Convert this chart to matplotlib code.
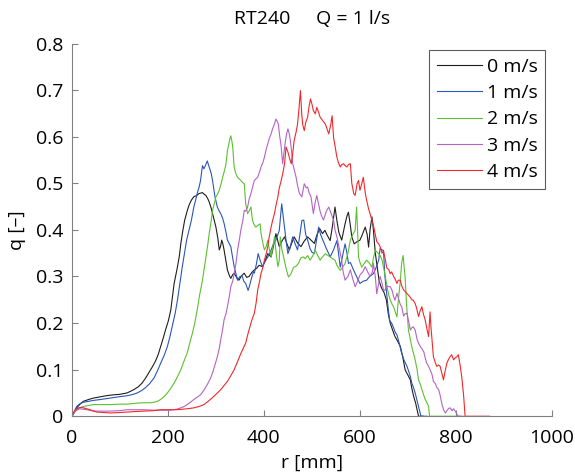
import matplotlib

matplotlib.use("Agg")
import matplotlib.pyplot as plt

plt.rcParams["font.family"] = ["Open Sans", "DejaVu Sans"]

labels = ["0 m/s", "1 m/s", "2 m/s", "3 m/s", "4 m/s"]
colors = ["#1e1e1e", "#2a56b8", "#5cc030", "#b463c6", "#f0282a"]

# 0 m/s
r0 = [0, 5, 10, 18, 24, 35, 45, 55, 66, 78, 87, 100, 115, 129, 138, 146, 153, 160, 167, 174,
      180, 185, 190, 195, 201, 206, 210, 213, 217, 220, 224, 227, 231, 235, 240, 244, 249, 254,
      260, 265, 272, 276, 279, 283, 286, 290, 293, 297, 300, 304, 307, 310, 312, 314, 317, 321,
      324, 328, 331, 335, 338, 343, 348, 353, 359, 364, 369, 375, 380, 385, 390, 397, 403, 408,
      415, 420, 425, 432, 437, 443, 448, 453, 458, 463, 470, 477, 484, 491, 498, 505, 510, 516,
      522, 527, 532, 538, 543, 548, 552, 556, 562, 566, 569, 573, 576, 580, 583, 588, 593, 600,
      605, 611, 615, 618, 621, 625, 628, 632, 635, 640, 645, 650, 655, 659, 663, 668, 673, 678,
      684, 689, 694, 700, 705, 708, 712, 716, 719, 722, 732]
q0 = [0, 0.008, 0.018, 0.027, 0.032, 0.036, 0.039, 0.041, 0.043, 0.045, 0.046, 0.047, 0.050,
      0.057, 0.063, 0.071, 0.081, 0.093, 0.105, 0.118, 0.133, 0.150, 0.167, 0.185, 0.205, 0.228,
      0.260, 0.285, 0.305, 0.321, 0.345, 0.371, 0.398, 0.421, 0.440, 0.453, 0.464, 0.471, 0.474,
      0.478, 0.480, 0.476, 0.474, 0.467, 0.460, 0.447, 0.435, 0.418, 0.406, 0.382, 0.357, 0.366,
      0.378, 0.372, 0.357, 0.333, 0.314, 0.302, 0.296, 0.304, 0.307, 0.298, 0.292, 0.301, 0.307,
      0.298, 0.300, 0.309, 0.314, 0.318, 0.324, 0.321, 0.335, 0.349, 0.342, 0.366, 0.392, 0.364,
      0.375, 0.385, 0.370, 0.357, 0.372, 0.385, 0.372, 0.364, 0.376, 0.385, 0.378, 0.371, 0.388,
      0.403, 0.392, 0.399, 0.388, 0.377, 0.410, 0.449, 0.420, 0.395, 0.378, 0.398, 0.413, 0.430,
      0.438, 0.410, 0.385, 0.370, 0.374, 0.378, 0.390, 0.406, 0.390, 0.363, 0.400, 0.428, 0.400,
      0.350, 0.328, 0.290, 0.275, 0.266, 0.250, 0.220, 0.200, 0.185, 0.171, 0.162, 0.150, 0.128,
      0.100, 0.088, 0.078, 0.060, 0.042, 0.028, 0.014, 0, 0]

# 1 m/s
r1 = [0, 5, 10, 17, 24, 35, 45, 60, 80, 100, 115, 128, 136, 145, 153, 162, 171, 178, 185, 192,
      199, 204, 209, 215, 220, 225, 230, 235, 239, 244, 249, 254, 258, 261, 265, 268, 272, 275,
      279, 282, 286, 290, 293, 298, 303, 307, 310, 314, 317, 321, 324, 328, 331, 335, 338, 342,
      345, 350, 355, 358, 362, 367, 370, 373, 378, 380, 384, 388, 392, 397, 404, 410, 415, 420,
      425, 432, 437, 440, 443, 447, 450, 455, 460, 465, 470, 475, 479, 483, 487, 491, 496, 500,
      505, 510, 514, 518, 524, 530, 538, 545, 552, 556, 559, 564, 569, 573, 576, 580, 587, 593,
      600, 607, 614, 620, 628, 634, 639, 642, 646, 649, 652, 655, 659, 662, 666, 670, 673, 677,
      681, 687, 692, 698, 702, 705, 708, 712, 715, 719, 722, 727, 740]
q1 = [0, 0.010, 0.021, 0.027, 0.030, 0.032, 0.034, 0.036, 0.039, 0.042, 0.044, 0.047, 0.050,
      0.055, 0.061, 0.070, 0.082, 0.097, 0.114, 0.130, 0.150, 0.170, 0.193, 0.220, 0.250, 0.285,
      0.321, 0.352, 0.378, 0.400, 0.421, 0.449, 0.465, 0.478, 0.492, 0.506, 0.538, 0.531, 0.540,
      0.548, 0.535, 0.522, 0.506, 0.471, 0.449, 0.440, 0.435, 0.425, 0.414, 0.395, 0.378, 0.370,
      0.364, 0.340, 0.321, 0.305, 0.292, 0.300, 0.300, 0.290, 0.285, 0.270, 0.280, 0.292, 0.310,
      0.307, 0.325, 0.349, 0.335, 0.321, 0.335, 0.345, 0.357, 0.370, 0.378, 0.399, 0.456, 0.430,
      0.406, 0.370, 0.349, 0.365, 0.385, 0.370, 0.357, 0.390, 0.420, 0.421, 0.390, 0.378, 0.360,
      0.352, 0.349, 0.380, 0.406, 0.390, 0.375, 0.360, 0.342, 0.357, 0.377, 0.345, 0.320, 0.345,
      0.370, 0.350, 0.328, 0.330, 0.313, 0.300, 0.285, 0.290, 0.292, 0.300, 0.306, 0.320, 0.335,
      0.360, 0.357, 0.356, 0.300, 0.270, 0.230, 0.205, 0.200, 0.190, 0.181, 0.175, 0.160, 0.135,
      0.120, 0.107, 0.095, 0.085, 0.071, 0.060, 0.050, 0.033, 0.020, 0, 0]

# 2 m/s
r2 = [0, 5, 10, 17, 24, 35, 45, 60, 80, 100, 115, 135, 150, 163, 171, 178, 185, 192, 199, 206,
      213, 220, 227, 233, 240, 245, 251, 256, 261, 266, 272, 276, 279, 283, 286, 290, 293, 297,
      300, 304, 307, 311, 314, 318, 321, 324, 327, 329, 331, 333, 335, 338, 341, 345, 348, 352,
      355, 359, 362, 366, 369, 373, 376, 380, 383, 388, 392, 394, 398, 401, 405, 408, 411, 415,
      418, 422, 425, 429, 432, 434, 437, 441, 446, 451, 456, 462, 467, 472, 477, 482, 486, 491,
      496, 501, 507, 512, 517, 522, 528, 533, 538, 543, 548, 553, 559, 564, 569, 575, 580, 585,
      590, 593, 595, 597, 600, 604, 609, 614, 620, 625, 628, 632, 636, 639, 642, 646, 649, 653,
      656, 660, 663, 667, 670, 674, 677, 680, 684, 687, 690, 692, 694, 697, 701, 705, 708, 712,
      715, 719, 722, 726, 729, 733, 736, 740, 743, 745, 810]
q2 = [0, 0.008, 0.014, 0.018, 0.021, 0.023, 0.025, 0.025, 0.025, 0.026, 0.026, 0.028, 0.029,
      0.029, 0.030, 0.032, 0.036, 0.042, 0.050, 0.060, 0.071, 0.085, 0.100, 0.117, 0.135, 0.155,
      0.178, 0.200, 0.228, 0.260, 0.292, 0.320, 0.342, 0.368, 0.392, 0.418, 0.442, 0.458, 0.471,
      0.478, 0.485, 0.500, 0.513, 0.528, 0.542, 0.570, 0.585, 0.595, 0.602, 0.592, 0.578, 0.535,
      0.522, 0.513, 0.510, 0.506, 0.502, 0.499, 0.456, 0.435, 0.440, 0.449, 0.421, 0.410, 0.406,
      0.410, 0.413, 0.392, 0.370, 0.357, 0.365, 0.378, 0.360, 0.342, 0.360, 0.385, 0.355, 0.321,
      0.335, 0.385, 0.360, 0.342, 0.318, 0.299, 0.305, 0.320, 0.322, 0.328, 0.340, 0.342, 0.338,
      0.345, 0.335, 0.343, 0.356, 0.345, 0.335, 0.342, 0.349, 0.345, 0.342, 0.338, 0.335, 0.322,
      0.313, 0.320, 0.328, 0.350, 0.378, 0.390, 0.399, 0.449, 0.400, 0.342, 0.330, 0.320, 0.328,
      0.335, 0.328, 0.320, 0.340, 0.356, 0.352, 0.349, 0.345, 0.335, 0.320, 0.300, 0.280, 0.260,
      0.250, 0.240, 0.235, 0.222, 0.213, 0.250, 0.290, 0.330, 0.345, 0.320, 0.300, 0.240, 0.185,
      0.165, 0.149, 0.133, 0.121, 0.100, 0.078, 0.068, 0.057, 0.045, 0.036, 0.028, 0.021, 0, 0]

# 3 m/s
r3 = [0, 4, 7, 12, 17, 24, 31, 40, 52, 65, 80, 100, 115, 130, 150, 170, 185, 206, 218, 227,
      234, 240, 247, 254, 261, 268, 275, 282, 288, 293, 298, 303, 307, 310, 314, 317, 321, 324,
      328, 331, 335, 338, 342, 345, 349, 352, 356, 359, 362, 366, 369, 373, 376, 380, 384, 387,
      391, 394, 398, 401, 404, 408, 411, 415, 418, 422, 425, 428, 430, 433, 436, 439, 441, 444,
      447, 450, 453, 455, 458, 460, 464, 467, 470, 474, 479, 484, 488, 491, 494, 498, 503, 507,
      510, 514, 517, 520, 524, 530, 535, 540, 545, 548, 552, 557, 562, 565, 569, 575, 580, 585,
      590, 595, 600, 606, 611, 616, 621, 626, 628, 632, 635, 639, 642, 646, 649, 652, 656, 660,
      663, 667, 670, 673, 677, 681, 684, 687, 691, 694, 698, 701, 705, 708, 711, 715, 719, 722,
      726, 729, 733, 736, 739, 743, 746, 750, 753, 757, 760, 764, 767, 771, 775, 778, 781, 785,
      788, 792, 795, 799, 802, 805, 815]
q3 = [0, 0.007, 0.011, 0.014, 0.016, 0.015, 0.014, 0.012, 0.011, 0.011, 0.011, 0.012, 0.014,
      0.014, 0.014, 0.013, 0.013, 0.013, 0.015, 0.018, 0.021, 0.025, 0.030, 0.036, 0.041, 0.046,
      0.056, 0.068, 0.080, 0.093, 0.110, 0.128, 0.146, 0.164, 0.186, 0.207, 0.220, 0.235, 0.258,
      0.278, 0.290, 0.307, 0.330, 0.356, 0.380, 0.400, 0.420, 0.442, 0.440, 0.449, 0.465, 0.478,
      0.490, 0.506, 0.510, 0.513, 0.525, 0.535, 0.545, 0.556, 0.570, 0.585, 0.596, 0.606, 0.617,
      0.627, 0.638, 0.632, 0.627, 0.600, 0.578, 0.542, 0.560, 0.585, 0.605, 0.617, 0.605, 0.592,
      0.565, 0.542, 0.525, 0.513, 0.495, 0.478, 0.471, 0.499, 0.490, 0.492, 0.480, 0.471, 0.435,
      0.460, 0.474, 0.455, 0.440, 0.430, 0.421, 0.440, 0.449, 0.435, 0.421, 0.400, 0.385, 0.360,
      0.335, 0.310, 0.292, 0.300, 0.314, 0.295, 0.278, 0.290, 0.303, 0.310, 0.321, 0.310, 0.300,
      0.310, 0.328, 0.300, 0.263, 0.285, 0.300, 0.285, 0.271, 0.270, 0.280, 0.278, 0.278, 0.270,
      0.257, 0.249, 0.264, 0.250, 0.240, 0.235, 0.215, 0.220, 0.221, 0.206, 0.185, 0.190, 0.192,
      0.185, 0.165, 0.157, 0.149, 0.145, 0.138, 0.125, 0.114, 0.107, 0.100, 0.090, 0.075, 0.070,
      0.062, 0.057, 0.045, 0.025, 0.012, 0.007, 0.012, 0.017, 0.018, 0.012, 0.016, 0.010, 0.004,
      0, 0]

# 4 m/s
r4 = [0, 4, 7, 10, 14, 20, 24, 31, 38, 45, 52, 65, 80, 100, 115, 130, 150, 170, 185, 200, 220,
      240, 254, 265, 275, 285, 296, 303, 310, 317, 324, 331, 338, 345, 352, 357, 362, 367, 373,
      376, 380, 384, 387, 391, 394, 398, 401, 405, 408, 411, 415, 418, 422, 425, 429, 432, 436,
      440, 443, 446, 450, 453, 457, 460, 463, 467, 470, 473, 476, 479, 481, 484, 487, 491, 494,
      497, 500, 503, 507, 510, 514, 517, 522, 528, 532, 535, 539, 542, 545, 549, 552, 555, 559,
      562, 566, 569, 573, 576, 580, 583, 587, 590, 594, 597, 600, 604, 607, 611, 614, 618, 621,
      625, 628, 632, 635, 639, 642, 646, 649, 653, 656, 660, 663, 666, 670, 673, 677, 680, 684,
      687, 691, 694, 698, 701, 705, 708, 711, 715, 718, 722, 725, 729, 732, 736, 739, 743, 746,
      748, 750, 753, 757, 760, 764, 767, 771, 774, 777, 781, 784, 788, 791, 795, 798, 802, 805,
      809, 812, 816, 819, 870]
q4 = [0, 0.008, 0.014, 0.016, 0.018, 0.019, 0.018, 0.016, 0.014, 0.011, 0.009, 0.008, 0.007,
      0.008, 0.009, 0.010, 0.011, 0.012, 0.014, 0.014, 0.014, 0.016, 0.018, 0.021, 0.025, 0.033,
      0.043, 0.050, 0.057, 0.066, 0.075, 0.087, 0.100, 0.117, 0.135, 0.146, 0.157, 0.178, 0.200,
      0.210, 0.221, 0.245, 0.271, 0.290, 0.307, 0.320, 0.335, 0.350, 0.364, 0.385, 0.406, 0.420,
      0.435, 0.452, 0.471, 0.490, 0.506, 0.525, 0.542, 0.578, 0.567, 0.555, 0.542, 0.565, 0.592,
      0.610, 0.627, 0.660, 0.699, 0.645, 0.625, 0.613, 0.630, 0.642, 0.665, 0.681, 0.670, 0.656,
      0.649, 0.663, 0.652, 0.642, 0.635, 0.627, 0.615, 0.606, 0.625, 0.645, 0.599, 0.575, 0.556,
      0.545, 0.535, 0.540, 0.542, 0.538, 0.535, 0.540, 0.542, 0.500, 0.478, 0.474, 0.499, 0.506,
      0.485, 0.500, 0.513, 0.480, 0.463, 0.445, 0.435, 0.420, 0.410, 0.390, 0.375, 0.370, 0.364,
      0.350, 0.355, 0.335, 0.318, 0.315, 0.306, 0.310, 0.300, 0.295, 0.285, 0.292, 0.292, 0.280,
      0.271, 0.268, 0.263, 0.260, 0.255, 0.250, 0.249, 0.242, 0.232, 0.214, 0.225, 0.235, 0.220,
      0.206, 0.190, 0.171, 0.224, 0.190, 0.164, 0.128, 0.115, 0.107, 0.110, 0.107, 0.090, 0.078,
      0.095, 0.114, 0.121, 0.128, 0.132, 0.121, 0.125, 0.128, 0.132, 0.107, 0.085, 0.043, 0, 0]

radii = [r0, r1, r2, r3, r4]
flows = [q0, q1, q2, q3, q4]

fig = plt.figure(figsize=(5.75, 4.73), dpi=100)
ax = fig.add_axes([0.125, 0.12, 0.835, 0.788])

for r, q, c, lab in zip(radii, flows, colors, labels):
    ax.plot(r, q, color=c, linewidth=0.8, label=lab)

ax.set_xlim(0, 1000)
ax.set_ylim(0, 0.8)
ax.set_xticks([0, 200, 400, 600, 800, 1000])
ax.set_yticks([0, 0.1, 0.2, 0.3, 0.4, 0.5, 0.6, 0.7, 0.8])
ax.set_yticklabels(["0", "0.1", "0.2", "0.3", "0.4", "0.5", "0.6", "0.7", "0.8"])
ax.tick_params(direction="in", length=4, width=0.8, color="#808080", labelsize=14)
ax.tick_params(axis="x", pad=9)
ax.tick_params(axis="y", pad=6)
for side in ["top", "right"]:
    ax.spines[side].set_visible(False)
for side in ["left", "bottom"]:
    ax.spines[side].set_color("#808080")
    ax.spines[side].set_linewidth(0.8)

ax.set_title("RT240     Q = 1 l/s", fontsize=14, pad=14)
ax.set_xlabel("r [mm]", fontsize=14, labelpad=5)
ax.set_ylabel("q [–]", fontsize=14, labelpad=7)

leg = ax.legend(loc="upper right", fontsize=14, frameon=True, fancybox=False,
                borderaxespad=0.35, handlelength=2.3, handletextpad=0.25,
                labelspacing=0.42, borderpad=0.4)
leg.get_frame().set_edgecolor("#333333")
leg.get_frame().set_linewidth(0.8)

fig.savefig("out.png", dpi=100)
